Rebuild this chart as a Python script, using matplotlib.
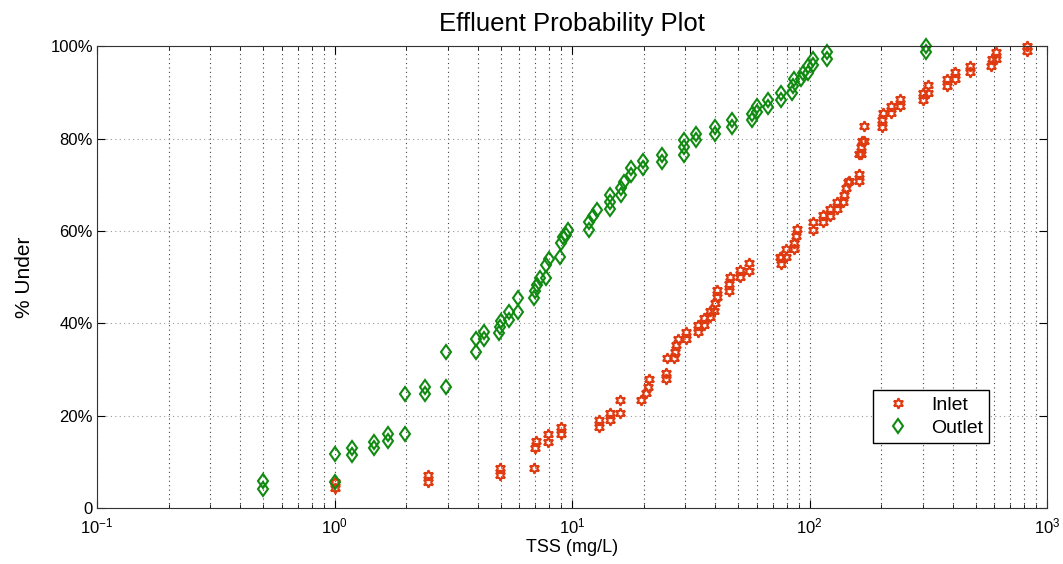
import matplotlib
matplotlib.use("Agg")
import matplotlib.pyplot as plt
from matplotlib.markers import MarkerStyle
from matplotlib.transforms import Affine2D
from matplotlib.ticker import FixedLocator, LogLocator, NullFormatter

# === Dados ===
inlet_tss = [1.0, 1.0, 2.47, 2.47, 4.97, 4.97, 6.9, 7.0, 7.08, 7.94, 7.94,
             8.96, 8.96, 13.0, 13.0, 14.4, 14.4, 15.9, 15.9, 19.6, 20.4, 20.8,
             21.0, 24.8, 24.8, 25.0, 26.9, 27.1, 27.4, 27.8, 30.1, 30.1, 34.0,
             34.0, 36.0, 36.0, 38.1, 38.1, 39.6, 40.0, 40.6, 40.9, 45.6, 45.6,
             46.2, 51.0, 51.0, 55.7, 55.7, 75.0, 75.7, 75.7, 79.4, 79.4, 86.3,
             86.3, 87.7, 88.5, 103.0, 103.0, 114.0, 114.0, 122.0, 122.0, 131.0,
             131.0, 138.0, 139.0, 142.6, 145.6, 147.0, 161.0, 161.0, 161.0,
             165.0, 165.0, 167.0, 170.0, 170.0, 201.0, 201.0, 203.0, 220.0,
             220.0, 241.0, 241.0, 300.0, 300.0, 315.0, 315.0, 379.0, 379.0,
             411.0, 411.0, 474.0, 474.0, 582.0, 586.0, 611.0, 611.0, 820.0,
             820.0]
inlet_pct = [4.3, 5.7, 5.7, 7.1, 7.1, 8.6, 8.6, 12.9, 14.6, 14.4, 16.0, 16.0,
             17.6, 17.5, 19.0, 19.0, 20.5, 20.5, 23.4, 23.4, 24.8, 26.3, 27.9,
             27.9, 29.3, 32.4, 32.4, 33.8, 35.3, 36.7, 36.7, 38.2, 38.2, 39.6,
             39.6, 41.1, 41.3, 42.7, 42.7, 44.3, 45.7, 47.2, 47.0, 48.6, 50.1,
             50.1, 51.5, 51.4, 53.0, 54.4, 52.8, 54.4, 54.4, 56.0, 56.0, 57.4,
             58.9, 60.5, 60.3, 62.0, 62.0, 63.4, 63.2, 64.8, 64.8, 66.3, 66.3,
             67.7, 69.2, 70.6, 70.8, 70.8, 72.3, 76.6, 76.6, 78.1, 79.5, 79.5,
             82.7, 82.5, 84.1, 85.6, 85.6, 87.0, 87.0, 88.5, 88.3, 89.8, 89.9,
             91.5, 91.3, 92.8, 92.9, 94.4, 94.4, 95.8, 95.8, 97.3, 97.3, 98.8,
             98.9, 100.0]

outlet_tss = [0.5, 0.5, 1.0, 1.0, 1.18, 1.18, 1.47, 1.47, 1.68, 1.68, 1.98,
              1.98, 2.4, 2.4, 2.96, 2.96, 3.95, 3.95, 4.26, 4.26, 4.92, 4.97,
              5.03, 5.42, 5.42, 5.93, 5.93, 6.9, 6.95, 7.14, 7.33, 7.8, 7.8,
              7.97, 8.9, 8.96, 9.2, 9.4, 9.6, 11.8, 11.8, 12.3, 12.7, 14.5,
              14.5, 14.5, 16.0, 16.0, 16.5, 17.7, 17.7, 19.9, 19.9, 24.0, 24.0,
              29.6, 29.6, 29.6, 33.2, 33.2, 40.0, 40.0, 47.0, 47.0, 57.0, 57.0,
              60.0, 60.0, 67.0, 67.0, 75.7, 75.7, 84.7, 85.3, 86.0, 92.4, 93.5,
              98.8, 98.8, 103.5, 103.5, 119.0, 119.0, 309.0, 309.0]
outlet_pct = [4.2, 5.8, 5.7, 11.8, 11.5, 12.9, 12.9, 14.4, 14.5, 16.1, 16.0,
              24.7, 24.7, 26.3, 26.3, 33.7, 33.7, 36.6, 36.6, 38.2, 37.9, 39.2,
              40.6, 40.8, 42.5, 42.5, 45.5, 45.5, 47.0, 48.4, 49.9, 49.9, 52.6,
              54.0, 54.3, 57.3, 58.7, 59.1, 60.3, 60.2, 62.0, 63.2, 64.6, 64.7,
              66.2, 67.7, 67.7, 69.2, 70.6, 72.1, 73.7, 73.7, 75.2, 75.0, 76.4,
              76.4, 78.1, 79.7, 79.7, 81.1, 81.1, 82.5, 82.5, 84.0, 84.0, 85.4,
              85.8, 87.0, 86.9, 88.3, 88.3, 89.9, 89.9, 91.3, 92.8, 92.8, 94.2,
              94.2, 95.7, 95.9, 97.3, 97.3, 98.8, 98.8, 100.0]

y_ticks = [0, 20, 40, 60, 80, 100]
y_labels = ["0", "20%", "40%", "60%", "80%", "100%"]

plt.rcParams['font.family'] = ['Liberation Sans', 'DejaVu Sans']

fig = plt.figure(figsize=(10.63, 5.64), dpi=100)
ax = fig.add_axes([0.0913, 0.0993, 0.8937, 0.8187])

ax.set_xscale('log')
ax.set_xlim(0.1, 1000)
ax.set_ylim(0, 100)

# grade estilo MATLAB
ax.grid(True, which='both', axis='x', linestyle=(0, (1, 3)), color='#444444', linewidth=0.8)
ax.grid(True, which='major', axis='y', linestyle=(0, (1, 3)), color='#999999', linewidth=0.8)
ax.set_axisbelow(True)

# losango mais largo, como no MATLAB
losango = MarkerStyle('d', transform=Affine2D().scale(1.3, 1.0))

ax.plot(inlet_tss, inlet_pct, linestyle='none', marker=(6, 1, 0), markersize=7.5,
        markerfacecolor='none', markeredgecolor='#e03a10', markeredgewidth=1.5,
        label='Inlet', clip_on=False)
ax.plot(outlet_tss, outlet_pct, linestyle='none', marker=losango, markersize=7,
        markerfacecolor='none', markeredgecolor='#108a10', markeredgewidth=1.5,
        label='Outlet', clip_on=False)

ax.yaxis.set_major_locator(FixedLocator(y_ticks))
ax.set_yticklabels(y_labels)
ax.xaxis.set_major_locator(LogLocator(base=10, numticks=10))
ax.xaxis.set_minor_locator(LogLocator(base=10, subs=range(2, 10), numticks=20))
ax.xaxis.set_minor_formatter(NullFormatter())

ax.tick_params(which='both', direction='in', top=True, right=True, labelsize=12)
ax.tick_params(axis='x', pad=6)
ax.tick_params(axis='y', pad=3)
ax.tick_params(which='major', length=6)
ax.tick_params(which='minor', length=3)
for s in ax.spines.values():
    s.set_color('#333333')

ax.set_title("Effluent Probability Plot", fontsize=18.5, pad=11)
ax.set_xlabel("TSS (mg/L)", fontsize=13, labelpad=2)
ax.set_ylabel("% Under", fontsize=15, labelpad=12)

leg = ax.legend(loc='lower left', bbox_to_anchor=(0.817, 0.141), fontsize=14,
                fancybox=False, edgecolor='black', framealpha=1,
                borderaxespad=0, handletextpad=0.7, borderpad=0.3,
                handlelength=2.0, labelspacing=0.3)
leg.get_frame().set_linewidth(1.0)

fig.savefig("out.png", dpi=100)
